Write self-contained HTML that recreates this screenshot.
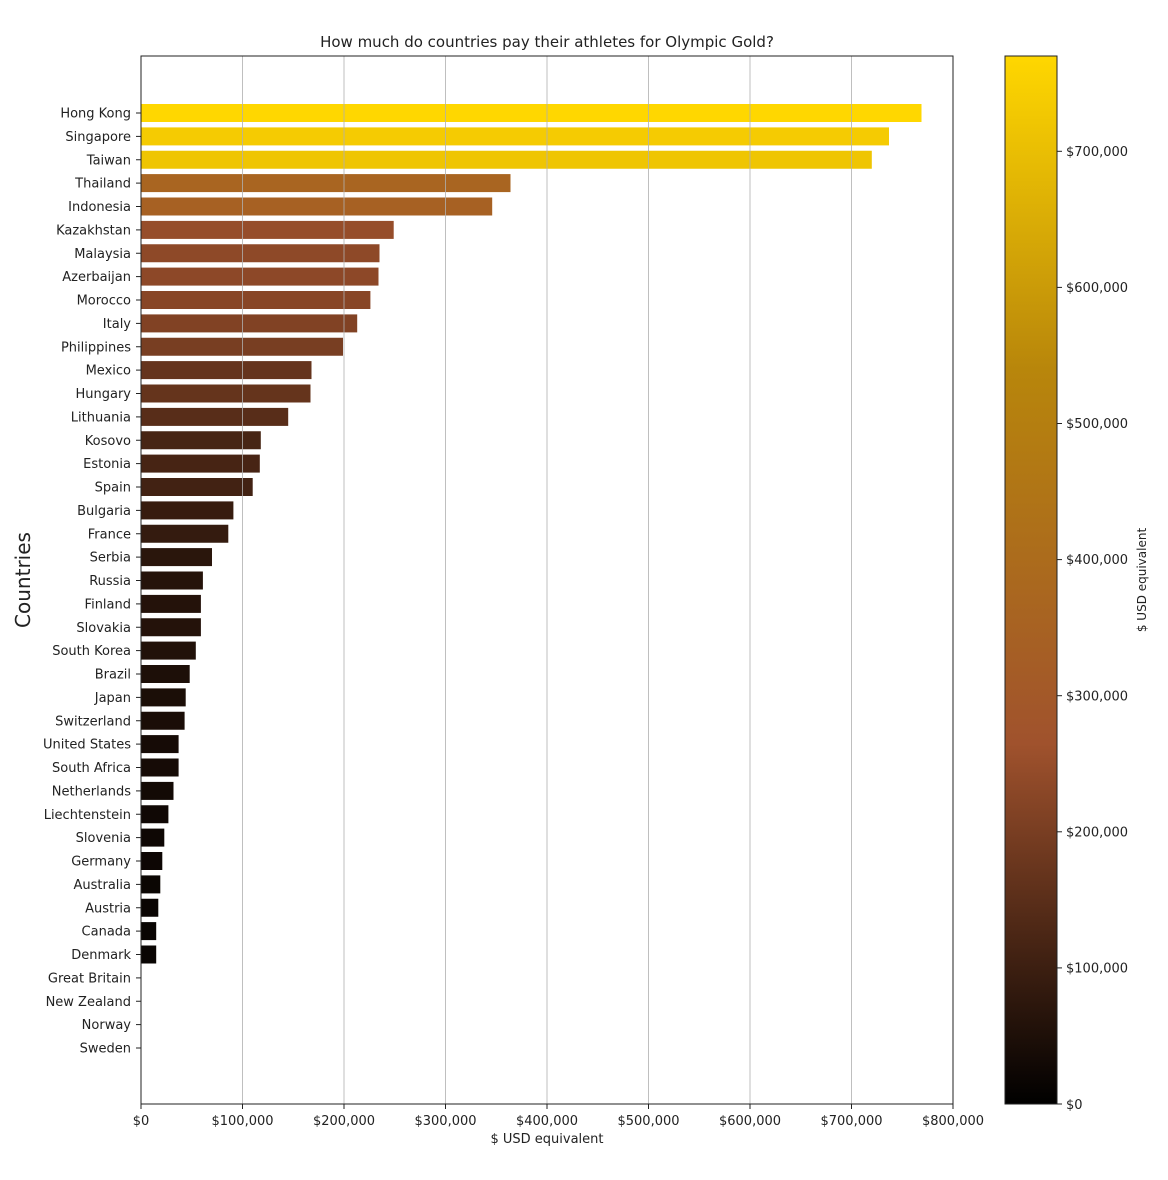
<!DOCTYPE html>
<html><head><meta charset="utf-8"><style>
html,body{margin:0;padding:0;background:#fff}
svg{display:block;font-family:"DejaVu Sans","Liberation Sans",sans-serif}
</style></head><body>
<svg width="1168" height="1180" viewBox="0 0 1168 1180" xmlns="http://www.w3.org/2000/svg">
<defs><linearGradient id="cb" x1="0" y1="0" x2="0" y2="1">
<stop offset="0" stop-color="#ffd700"/><stop offset="0.299" stop-color="#b8860b"/><stop offset="0.656" stop-color="#a0522d"/><stop offset="1" stop-color="#000"/>
</linearGradient></defs>
<rect width="1168" height="1180" fill="#fff"/>
<text x="547" y="47" font-size="15" text-anchor="middle" fill="#222">How much do countries pay their athletes for Olympic Gold?</text>
<g stroke="none">
<rect x="141" y="104" width="780.5" height="18" fill="rgb(255,215,0)"/>
<rect x="141" y="127.4" width="748" height="18" fill="rgb(245,203,2)"/>
<rect x="141" y="150.75" width="730.8" height="18" fill="rgb(239,197,2)"/>
<rect x="141" y="174.1" width="369.5" height="18" fill="rgb(169,101,33)"/>
<rect x="141" y="197.5" width="351.2" height="18" fill="rgb(167,97,35)"/>
<rect x="141" y="220.9" width="252.7" height="18" fill="rgb(150,77,42)"/>
<rect x="141" y="244.25" width="238.5" height="18" fill="rgb(142,73,40)"/>
<rect x="141" y="267.6" width="237.5" height="18" fill="rgb(141,72,40)"/>
<rect x="141" y="291" width="229.4" height="18" fill="rgb(136,70,38)"/>
<rect x="141" y="314.4" width="216.2" height="18" fill="rgb(129,66,36)"/>
<rect x="141" y="337.75" width="202" height="18" fill="rgb(120,62,34)"/>
<rect x="141" y="361.1" width="170.5" height="18" fill="rgb(101,52,29)"/>
<rect x="141" y="384.5" width="169.5" height="18" fill="rgb(101,52,28)"/>
<rect x="141" y="407.9" width="147.2" height="18" fill="rgb(88,45,25)"/>
<rect x="141" y="431.25" width="119.8" height="18" fill="rgb(71,37,20)"/>
<rect x="141" y="454.6" width="118.8" height="18" fill="rgb(71,36,20)"/>
<rect x="141" y="478" width="111.7" height="18" fill="rgb(66,34,19)"/>
<rect x="141" y="501.4" width="92.4" height="18" fill="rgb(55,28,15)"/>
<rect x="141" y="524.75" width="87.3" height="18" fill="rgb(52,27,15)"/>
<rect x="141" y="548.1" width="71" height="18" fill="rgb(42,22,12)"/>
<rect x="141" y="571.5" width="61.9" height="18" fill="rgb(37,19,10)"/>
<rect x="141" y="594.9" width="59.9" height="18" fill="rgb(36,18,10)"/>
<rect x="141" y="618.25" width="59.9" height="18" fill="rgb(36,18,10)"/>
<rect x="141" y="641.6" width="54.8" height="18" fill="rgb(33,17,9)"/>
<rect x="141" y="665" width="48.7" height="18" fill="rgb(29,15,8)"/>
<rect x="141" y="688.4" width="44.7" height="18" fill="rgb(27,14,7)"/>
<rect x="141" y="711.75" width="43.6" height="18" fill="rgb(26,13,7)"/>
<rect x="141" y="735.1" width="37.6" height="18" fill="rgb(22,11,6)"/>
<rect x="141" y="758.5" width="37.6" height="18" fill="rgb(22,11,6)"/>
<rect x="141" y="781.9" width="32.5" height="18" fill="rgb(19,10,5)"/>
<rect x="141" y="805.25" width="27.4" height="18" fill="rgb(16,8,5)"/>
<rect x="141" y="828.6" width="23.3" height="18" fill="rgb(14,7,4)"/>
<rect x="141" y="852" width="21.3" height="18" fill="rgb(13,6,4)"/>
<rect x="141" y="875.4" width="19.3" height="18" fill="rgb(11,6,3)"/>
<rect x="141" y="898.75" width="17.3" height="18" fill="rgb(10,5,3)"/>
<rect x="141" y="922.1" width="15.2" height="18" fill="rgb(9,5,3)"/>
<rect x="141" y="945.5" width="15.2" height="18" fill="rgb(9,5,3)"/>
</g>
<g stroke="#b0b0b0" stroke-width="1" opacity="0.8">
<line x1="242.5" y1="56" x2="242.5" y2="1104"/><line x1="344" y1="56" x2="344" y2="1104"/>
<line x1="445.5" y1="56" x2="445.5" y2="1104"/><line x1="547" y1="56" x2="547" y2="1104"/>
<line x1="648.5" y1="56" x2="648.5" y2="1104"/><line x1="750" y1="56" x2="750" y2="1104"/>
<line x1="851.5" y1="56" x2="851.5" y2="1104"/>
</g>
<rect x="141" y="56" width="812" height="1048" fill="none" stroke="#222" stroke-width="1"/>
<g stroke="#222" stroke-width="1">
<line x1="141" y1="1104" x2="141" y2="1109"/><line x1="242.5" y1="1104" x2="242.5" y2="1109"/><line x1="344" y1="1104" x2="344" y2="1109"/><line x1="445.5" y1="1104" x2="445.5" y2="1109"/><line x1="547" y1="1104" x2="547" y2="1109"/><line x1="648.5" y1="1104" x2="648.5" y2="1109"/><line x1="750" y1="1104" x2="750" y2="1109"/><line x1="851.5" y1="1104" x2="851.5" y2="1109"/><line x1="953" y1="1104" x2="953" y2="1109"/>
</g>
<g font-size="13" fill="#222" text-anchor="middle">
<text x="141" y="1125">$0</text><text x="242.5" y="1125">$100,000</text><text x="344" y="1125">$200,000</text><text x="445.5" y="1125">$300,000</text><text x="547" y="1125">$400,000</text><text x="648.5" y="1125">$500,000</text><text x="750" y="1125">$600,000</text><text x="851.5" y="1125">$700,000</text><text x="953" y="1125">$800,000</text>
<text x="547" y="1143">$ USD equivalent</text>
</g>
<g font-size="13" fill="#222" text-anchor="end">
<text x="131" y="117.5">Hong Kong</text><text x="131" y="140.9">Singapore</text><text x="131" y="164.25">Taiwan</text><text x="131" y="187.6">Thailand</text><text x="131" y="211">Indonesia</text><text x="131" y="234.4">Kazakhstan</text><text x="131" y="257.75">Malaysia</text><text x="131" y="281.1">Azerbaijan</text><text x="131" y="304.5">Morocco</text><text x="131" y="327.9">Italy</text><text x="131" y="351.25">Philippines</text><text x="131" y="374.6">Mexico</text><text x="131" y="398">Hungary</text><text x="131" y="421.4">Lithuania</text><text x="131" y="444.75">Kosovo</text><text x="131" y="468.1">Estonia</text><text x="131" y="491.5">Spain</text><text x="131" y="514.9">Bulgaria</text><text x="131" y="538.25">France</text><text x="131" y="561.6">Serbia</text><text x="131" y="585">Russia</text><text x="131" y="608.4">Finland</text><text x="131" y="631.75">Slovakia</text><text x="131" y="655.1">South Korea</text><text x="131" y="678.5">Brazil</text><text x="131" y="701.9">Japan</text><text x="131" y="725.25">Switzerland</text><text x="131" y="748.6">United States</text><text x="131" y="772">South Africa</text><text x="131" y="795.4">Netherlands</text><text x="131" y="818.75">Liechtenstein</text><text x="131" y="842.1">Slovenia</text><text x="131" y="865.5">Germany</text><text x="131" y="888.9">Australia</text><text x="131" y="912.25">Austria</text><text x="131" y="935.6">Canada</text><text x="131" y="959">Denmark</text><text x="131" y="982.4">Great Britain</text><text x="131" y="1005.75">New Zealand</text><text x="131" y="1029.1">Norway</text><text x="131" y="1052.5">Sweden</text>
</g>
<g stroke="#222" stroke-width="1">
<line x1="136" y1="113" x2="141" y2="113"/><line x1="136" y1="136.4" x2="141" y2="136.4"/><line x1="136" y1="159.75" x2="141" y2="159.75"/><line x1="136" y1="183.1" x2="141" y2="183.1"/><line x1="136" y1="206.5" x2="141" y2="206.5"/><line x1="136" y1="229.9" x2="141" y2="229.9"/><line x1="136" y1="253.25" x2="141" y2="253.25"/><line x1="136" y1="276.6" x2="141" y2="276.6"/><line x1="136" y1="300" x2="141" y2="300"/><line x1="136" y1="323.4" x2="141" y2="323.4"/><line x1="136" y1="346.75" x2="141" y2="346.75"/><line x1="136" y1="370.1" x2="141" y2="370.1"/><line x1="136" y1="393.5" x2="141" y2="393.5"/><line x1="136" y1="416.9" x2="141" y2="416.9"/><line x1="136" y1="440.25" x2="141" y2="440.25"/><line x1="136" y1="463.6" x2="141" y2="463.6"/><line x1="136" y1="487" x2="141" y2="487"/><line x1="136" y1="510.4" x2="141" y2="510.4"/><line x1="136" y1="533.75" x2="141" y2="533.75"/><line x1="136" y1="557.1" x2="141" y2="557.1"/><line x1="136" y1="580.5" x2="141" y2="580.5"/><line x1="136" y1="603.9" x2="141" y2="603.9"/><line x1="136" y1="627.25" x2="141" y2="627.25"/><line x1="136" y1="650.6" x2="141" y2="650.6"/><line x1="136" y1="674" x2="141" y2="674"/><line x1="136" y1="697.4" x2="141" y2="697.4"/><line x1="136" y1="720.75" x2="141" y2="720.75"/><line x1="136" y1="744.1" x2="141" y2="744.1"/><line x1="136" y1="767.5" x2="141" y2="767.5"/><line x1="136" y1="790.9" x2="141" y2="790.9"/><line x1="136" y1="814.25" x2="141" y2="814.25"/><line x1="136" y1="837.6" x2="141" y2="837.6"/><line x1="136" y1="861" x2="141" y2="861"/><line x1="136" y1="884.4" x2="141" y2="884.4"/><line x1="136" y1="907.75" x2="141" y2="907.75"/><line x1="136" y1="931.1" x2="141" y2="931.1"/><line x1="136" y1="954.5" x2="141" y2="954.5"/><line x1="136" y1="977.9" x2="141" y2="977.9"/><line x1="136" y1="1001.25" x2="141" y2="1001.25"/><line x1="136" y1="1024.6" x2="141" y2="1024.6"/><line x1="136" y1="1048" x2="141" y2="1048"/>
</g>
<text transform="translate(30,580) rotate(-90)" font-size="20" text-anchor="middle" fill="#222">Countries</text>
<rect x="1005" y="56" width="52" height="1048" fill="url(#cb)" stroke="#222" stroke-width="1"/>
<g stroke="#222" stroke-width="1">
<line x1="1057" y1="1104" x2="1062" y2="1104"/><line x1="1057" y1="967.9" x2="1062" y2="967.9"/><line x1="1057" y1="831.8" x2="1062" y2="831.8"/><line x1="1057" y1="695.7" x2="1062" y2="695.7"/><line x1="1057" y1="559.6" x2="1062" y2="559.6"/><line x1="1057" y1="423.5" x2="1062" y2="423.5"/><line x1="1057" y1="287.4" x2="1062" y2="287.4"/><line x1="1057" y1="151.3" x2="1062" y2="151.3"/>
</g>
<g font-size="13" fill="#222">
<text x="1066" y="1109">$0</text><text x="1066" y="972.5">$100,000</text><text x="1066" y="836.4">$200,000</text><text x="1066" y="700.3">$300,000</text><text x="1066" y="564.2">$400,000</text><text x="1066" y="428.1">$500,000</text><text x="1066" y="292">$600,000</text><text x="1066" y="155.9">$700,000</text>
</g>
<text transform="translate(1146,580) rotate(-90)" font-size="12" text-anchor="middle" fill="#222">$ USD equivalent</text>
</svg>
</body></html>
